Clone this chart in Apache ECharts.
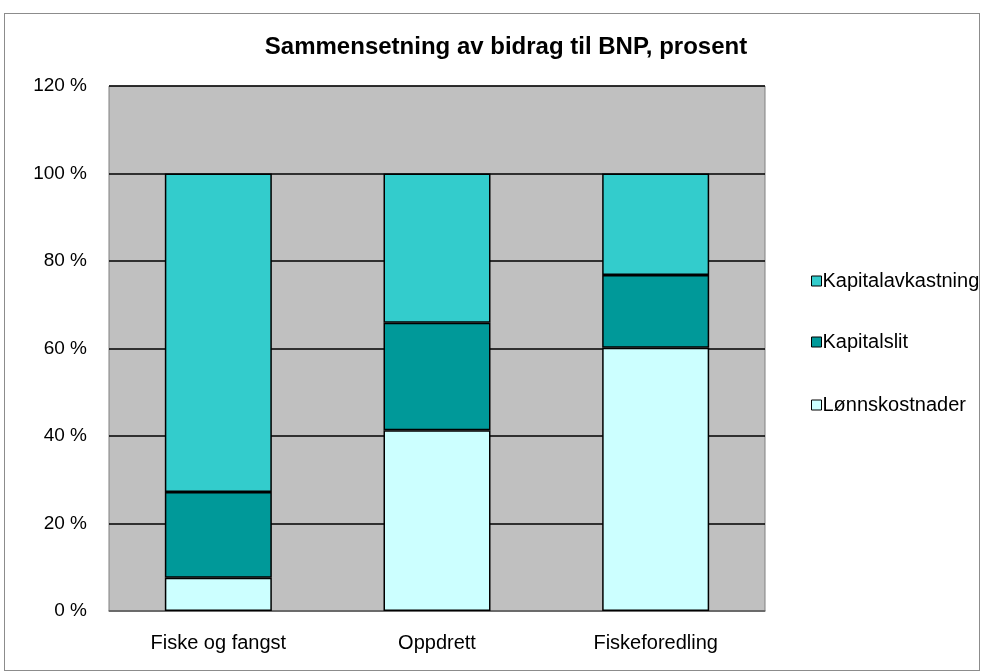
<!DOCTYPE html>
<html>
<head>
<meta charset="utf-8">
<script src="https://cdn.jsdelivr.net/npm/echarts@6/dist/echarts.min.js"></script>
<style>
  html, body { margin: 0; padding: 0; background: #fff; }
  #frame {
    position: absolute; left: 4px; top: 13px; width: 976px; height: 658px;
    border: 1px solid #8c8c8c; box-sizing: border-box;
  }
  #chart { width: 984px; height: 672px; position: absolute; left: 0; top: 0; }
</style>
</head>
<body>
<div id="frame"></div>
<div id="chart"></div>
<script>
// Data
const categories = ['Fiske og fangst', 'Oppdrett', 'Fiskeforedling']
const lonnskostnader = [7.6, 41.3, 60.2]
const kapitalslit = [19.6, 24.6, 16.6]
const kapitalavkastning = [72.8, 34.1, 23.2]

const chart = echarts.init(document.getElementById('chart'))

const barSeries = (name, data, color) => ({
  name,
  type: 'bar',
  stack: 'total',
  data,
  barWidth: 107,
  itemStyle: { color, borderColor: '#000', borderWidth: 1.5 },
  emphasis: { disabled: true }
})

// One legend per entry so each can sit at its own height
const legendItem = (name, top) => ({
  left: 806,
  top,
  icon: 'rect',
  itemWidth: 10,
  itemHeight: 10,
  itemGap: 0,
  data: [name],
  textStyle: { fontSize: 20, color: '#000', padding: [0, 0, 0, -4] },
  itemStyle: { borderColor: '#000', borderWidth: 1 }
})

chart.setOption({
  animation: false,
  textStyle: { fontFamily: 'Liberation Sans, Arial, sans-serif' },
  title: {
    text: 'Sammensetning av bidrag til BNP, prosent',
    left: 501,
    textAlign: 'center',
    top: 30,
    textStyle: { fontSize: 24, fontWeight: 'bold', color: '#000' }
  },
  legend: [
    legendItem('Kapitalavkastning', 266),
    legendItem('Kapitalslit', 327),
    legendItem('Lønnskostnader', 390)
  ],
  grid: {
    left: 109,
    top: 86,
    width: 656,
    height: 525,
    show: true,
    backgroundColor: '#c0c0c0',
    borderColor: '#808080',
    borderWidth: 1
  },
  xAxis: {
    type: 'category',
    data: categories,
    axisLine: { show: true, lineStyle: { color: '#808080', width: 1.5 } },
    axisTick: { show: false },
    axisLabel: { fontSize: 20, color: '#000', margin: 22 }
  },
  yAxis: {
    type: 'value',
    min: 0,
    max: 120,
    interval: 20,
    axisLine: { show: false },
    axisTick: { show: false },
    axisLabel: { fontSize: 19, color: '#000', margin: 22, formatter: v => v + ' %' },
    splitLine: { show: true, lineStyle: { color: '#000', width: 1.5 } }
  },
  series: [
    barSeries('Lønnskostnader', lonnskostnader, '#ccffff'),
    barSeries('Kapitalslit', kapitalslit, '#009999'),
    barSeries('Kapitalavkastning', kapitalavkastning, '#33cccc')
  ]
})
</script>
</body>
</html>
